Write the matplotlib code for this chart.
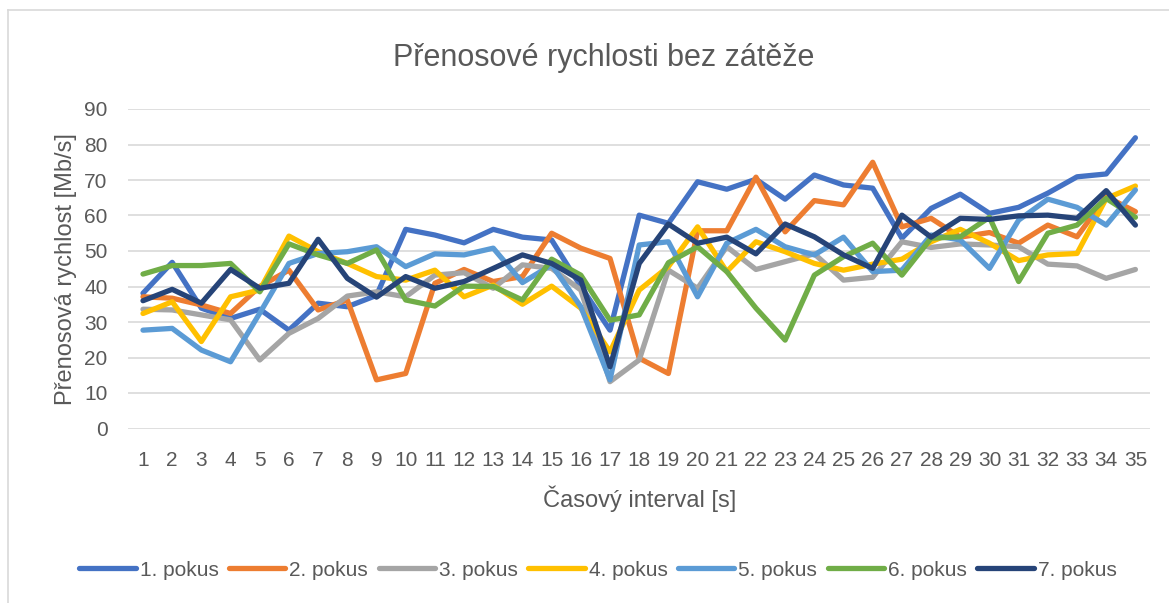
import numpy as np
import matplotlib
matplotlib.use('Agg')
import matplotlib.pyplot as plt
from matplotlib.lines import Line2D

# ─── Data ──────────────────────────────────────────
intervals = list(range(1, 36))

pokus1 = [38.1, 46.8, 33.9, 31.0, 33.6, 27.7, 35.3, 34.3, 37.5, 56.1,
          54.5, 52.3, 56.1, 53.9, 53.1, 40.0, 27.7, 60.1, 57.8, 69.5,
          67.4, 70.2, 64.6, 71.4, 68.6, 67.7, 53.6, 62.0, 66.0, 60.6,
          62.3, 66.3, 70.9, 71.7, 81.9]
pokus2 = [37.1, 36.7, 34.8, 32.4, 40.0, 44.6, 33.4, 36.2, 13.7, 15.5,
          40.9, 44.8, 41.4, 42.8, 55.0, 50.8, 47.9, 19.8, 15.5, 55.7,
          55.7, 70.8, 55.4, 64.2, 63.0, 75.0, 56.8, 59.2, 53.9, 55.2,
          52.2, 57.3, 54.0, 65.3, 61.1]
pokus3 = [33.6, 33.4, 32.0, 30.6, 19.3, 26.8, 31.0, 37.3, 38.5, 37.1,
          43.2, 43.9, 39.5, 46.1, 45.1, 39.0, 13.2, 19.3, 44.6, 39.5,
          51.2, 44.8, 47.0, 49.2, 41.8, 42.6, 52.6, 51.0, 52.0, 51.7,
          51.2, 46.3, 45.8, 42.3, 44.8]
pokus4 = [32.4, 35.7, 24.5, 37.1, 39.0, 54.2, 49.8, 46.5, 42.8, 41.8,
          44.6, 37.1, 40.4, 35.0, 40.1, 33.9, 21.6, 39.0, 45.6, 56.8,
          44.2, 52.6, 49.8, 46.5, 44.6, 46.3, 47.7, 52.6, 56.1, 52.2,
          47.3, 48.9, 49.3, 64.8, 68.3]
pokus5 = [27.7, 28.2, 22.1, 18.8, 32.5, 46.5, 49.3, 49.8, 51.2, 45.6,
          49.2, 48.9, 50.8, 41.1, 46.1, 34.3, 13.7, 51.7, 52.6, 37.1,
          52.2, 56.1, 51.2, 48.9, 53.9, 44.2, 44.6, 54.5, 53.1, 45.1,
          58.7, 64.6, 62.3, 57.3, 67.2]
pokus6 = [43.5, 45.9, 45.9, 46.5, 38.5, 52.0, 48.9, 46.5, 50.3, 36.2,
          34.5, 40.1, 40.0, 36.2, 47.7, 43.2, 30.5, 32.0, 46.7, 51.2,
          44.2, 33.9, 24.9, 43.2, 48.4, 52.2, 43.2, 53.6, 54.0, 59.5,
          41.4, 55.0, 57.3, 64.8, 59.5]
pokus7 = [36.0, 39.2, 35.3, 44.8, 39.5, 40.9, 53.3, 42.3, 37.0, 42.8,
          39.5, 41.4, 45.1, 48.9, 46.5, 41.8, 17.4, 46.5, 57.6, 52.2,
          53.9, 49.2, 57.6, 54.0, 48.9, 45.1, 60.1, 53.9, 59.2, 58.9,
          59.9, 60.1, 59.2, 67.0, 57.3]

series = [pokus1, pokus2, pokus3, pokus4, pokus5, pokus6, pokus7]
labels = ['1. pokus', '2. pokus', '3. pokus', '4. pokus',
          '5. pokus', '6. pokus', '7. pokus']
# ──────────────────────────────────────────────────

COLORS = ['#4472C4', '#ED7D31', '#A5A5A5', '#FFC000',
          '#5B9BD5', '#70AD47', '#264478']
TEXT = '#595959'
GRID = '#D9D9D9'

plt.rcParams['font.family'] = ['Liberation Sans', 'DejaVu Sans']

W, H = 1169, 603
fig = plt.figure(figsize=(W / 100, H / 100), dpi=100)

# chart border (cut at right/bottom edges, as in the source)
fig.add_artist(Line2D([8 / W, 8 / W], [0, 1 - 10 / H], color=GRID,
                      lw=1.2, transform=fig.transFigure))
fig.add_artist(Line2D([8 / W, 1], [1 - 10 / H, 1 - 10 / H], color=GRID,
                      lw=1.2, transform=fig.transFigure))

left, right = 128.4 / W, 1150 / W
bottom, top = 1 - 428.5 / H, 1 - 109 / H
ax = fig.add_axes([left, bottom, right - left, top - bottom])

for vals, lab, col in zip(series, labels, COLORS):
    ax.plot(intervals, vals, color=col, lw=3.8, label=lab,
            solid_capstyle='round', solid_joinstyle='round')

ax.set_xlim(0.5, 35.5)
ax.set_ylim(0, 90)
ax.set_yticks(range(0, 91, 10))
ax.set_xticks(intervals)
ax.grid(axis='y', color=GRID, lw=1.2)
ax.set_axisbelow(True)
for s in ax.spines.values():
    s.set_visible(False)
ax.tick_params(length=0, labelsize=15, colors=TEXT)
ax.tick_params(axis='y', pad=15)
ax.tick_params(axis='x', pad=16)

ax.set_xlabel('Časový interval [s]', fontsize=17, color=TEXT, labelpad=11)
ax.set_ylabel('Přenosová rychlost [Mb/s]', fontsize=17, color=TEXT, labelpad=5)

fig.text(604 / W, 1 - 58 / H, 'Přenosové rychlosti bez zátěže',
         ha='center', va='center', fontsize=22, color=TEXT)

fig.legend(loc='center', bbox_to_anchor=(598 / W, 1 - 570 / H), ncol=7,
           frameon=False, fontsize=15, labelcolor=TEXT, handlelength=2.7,
           handletextpad=0.2, columnspacing=0.5)

plt.savefig('out.png', dpi=100, facecolor='white')
plt.close()
